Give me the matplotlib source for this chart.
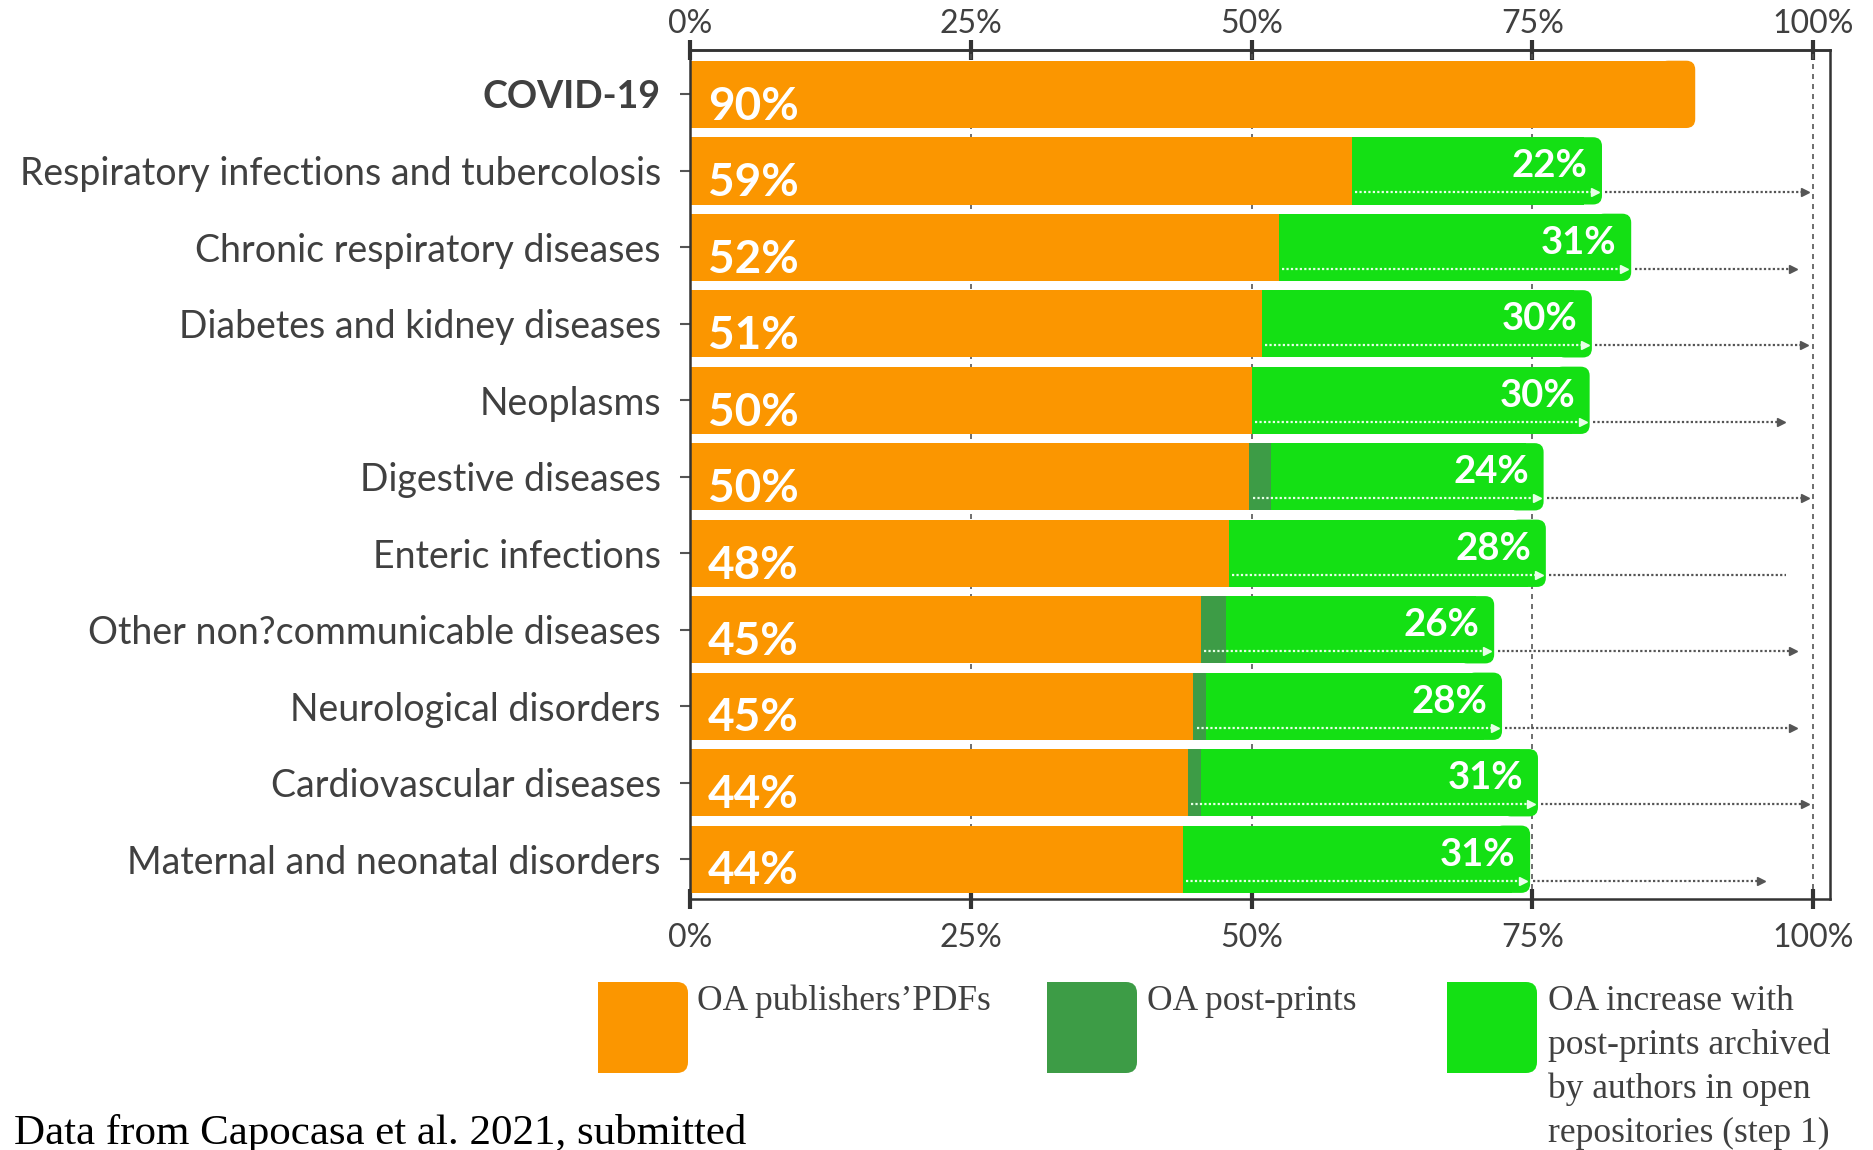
import numpy as np
import matplotlib
matplotlib.use("Agg")
import matplotlib.pyplot as plt
from matplotlib.patches import Rectangle, FancyBboxPatch

# data (percent of papers), lengths as drawn in the original and printed labels
diseases = ["COVID-19", "Respiratory infections and tubercolosis", "Chronic respiratory diseases",
            "Diabetes and kidney diseases", "Neoplasms", "Digestive diseases", "Enteric infections",
            "Other non?communicable diseases", "Neurological disorders", "Cardiovascular diseases",
            "Maternal and neonatal disorders"]
oa_pdfs = [89.5, 58.9, 52.4, 50.9, 50.0, 49.8, 48.0, 45.5, 44.8, 44.3, 43.9]
oa_postprints = [0, 0, 0, 0, 0, 1.9, 0, 2.2, 1.1, 1.2, 0]
oa_increase = [0, 22.3, 31.4, 29.4, 30.1, 24.3, 28.2, 23.9, 26.4, 30.0, 30.9]
oa_potential = [0, 99.6, 98.5, 99.5, 97.4, 99.6, 97.9, 98.5, 98.5, 99.6, 95.7]
pdf_labels = [90, 59, 52, 51, 50, 50, 48, 45, 45, 44, 44]
inc_labels = [None, 22, 31, 30, 30, 24, 28, 26, 28, 31, 31]
xticks = [0, 25, 50, 75, 100]

orange = "#fb9600"
dkgreen = "#3d9c46"
ltgreen = "#14e014"
grey = "#404040"

plt.rcParams['font.family'] = ['Lato', 'DejaVu Sans']

fig = plt.figure(figsize=(18.74, 11.5), dpi=100)
ax = fig.add_axes([690/1874, 1-899/1150, 1140/1874, 849/1150])
xmax = 101.5
ylims = (10.52, -0.58)
ax.set_xlim(0, xmax)
ax.set_ylim(*ylims)

# aspect for rounded ends
px_x = 1140 / xmax
px_y = 849 / (ylims[0] - ylims[1])
asp = px_x / px_y
r = 9 / px_x  # corner radius in x units

y = np.arange(len(diseases))
h = 0.88
pdfs = np.array(oa_pdfs)
pp = np.array(oa_postprints)
inc = np.array(oa_increase)


def seg(i, left, width, color, last):
    if width <= 0:
        return
    if last:
        ax.barh(y[i], width - 2 * r, left=left, height=h, color=color, zorder=2)
        ax.add_patch(FancyBboxPatch((left + width - 4 * r, y[i] - h / 2), 4 * r, h,
                                    boxstyle=f"round,pad=0,rounding_size={r}",
                                    mutation_aspect=asp, color=color, lw=0, zorder=2))
    else:
        ax.barh(y[i], width, left=left, height=h, color=color, zorder=2)


for i in range(len(diseases)):
    seg(i, 0, pdfs[i], orange, pp[i] == 0 and inc[i] == 0)
    seg(i, pdfs[i], pp[i], dkgreen, inc[i] == 0)
    seg(i, pdfs[i] + pp[i], inc[i], ltgreen, True)

    ax.text(1.6, y[i] + 0.16, f"{pdf_labels[i]}%", color="white", fontsize=33,
            fontweight="bold", va="center", ha="left", zorder=4)
    if inc_labels[i] is not None:
        end = pdfs[i] + pp[i] + inc[i]
        ax.text(end - 1.3, y[i] - 0.06, f"{inc_labels[i]}%", color="white", fontsize=27.5,
                fontweight="bold", va="center", ha="right", zorder=4)
        ya = y[i] + 0.28
        ax.plot([pdfs[i] + 0.3, end - 0.6], [ya, ya], color="#e8ffe8", ls=(0, (1, 1)), lw=1.6, zorder=3)
        ax.plot(end - 0.6, ya, marker=">", color="#e8ffe8", ms=6, zorder=3)
        ax.plot([end + 0.3, oa_potential[i] - 0.3], [ya, ya], color="#555555", ls=(0, (1, 1)), lw=1.6, zorder=3)
        if diseases[i] != "Enteric infections":
            ax.plot(oa_potential[i] - 0.3, ya, marker=">", color="#555555", ms=6, zorder=3)

ax.set_xticks(xticks)
ax.set_xticklabels([f"{t}%" for t in xticks])
ax.set_yticks(y)
ax.set_yticklabels(diseases)
ax.get_yticklabels()[0].set_fontweight("bold")

ax.grid(axis="x", color="#555555", ls=(0, (3, 3)), lw=1.2, zorder=1)
ax.tick_params(axis="x", direction="inout", length=14, width=3,
               color="#333333", labelsize=23, labelcolor=grey, pad=10)
ax.tick_params(axis="y", length=7, width=1.5, color="#555555", labelsize=27, labelcolor=grey, pad=14)
for s in ax.spines.values():
    s.set_color("#333333")
    s.set_linewidth(1.8)

top = ax.secondary_xaxis("top")
top.set_xticks(xticks)
top.set_xticklabels([f"{t}%" for t in xticks])
top.tick_params(direction="inout", length=14, width=3, color="#333333",
                labelsize=23, labelcolor=grey, pad=1)
top.spines["top"].set_color("#333333")
top.spines["top"].set_linewidth(1.8)

# legend
leg_boxes = [(598, orange), (1047, dkgreen), (1447, ltgreen)]
rr = 11
for x0, c in leg_boxes:
    fig.add_artist(FancyBboxPatch((x0/1874, 1-1073/1150), 90/1874, 91/1150,
                                  boxstyle=f"round,pad=0,rounding_size={rr/1874}",
                                  mutation_aspect=1874/1150, color=c, lw=0,
                                  transform=fig.transFigure))
    fig.add_artist(Rectangle((x0/1874, 1-1073/1150), 45/1874, 91/1150, color=c, lw=0,
                             transform=fig.transFigure))
leg_font = ['Liberation Serif', 'DejaVu Serif']
fig.text(697/1874, 1-985/1150, "OA publishers’PDFs", family=leg_font, fontsize=25.5, color=grey, va="top")
fig.text(1147/1874, 1-985/1150, "OA post-prints", family=leg_font, fontsize=25.5, color=grey, va="top")
fig.text(1548/1874, 1-985/1150, "OA increase with\npost-prints archived\nby authors in open\nrepositories (step 1)",
         family=leg_font, fontsize=25.5, color=grey, va="top", linespacing=1.42)

fig.text(14/1874, 6/1150, "Data from Capocasa et al. 2021, submitted", family=leg_font,
         fontsize=31, color="black", va="baseline")

fig.savefig("out.png", dpi=100)
